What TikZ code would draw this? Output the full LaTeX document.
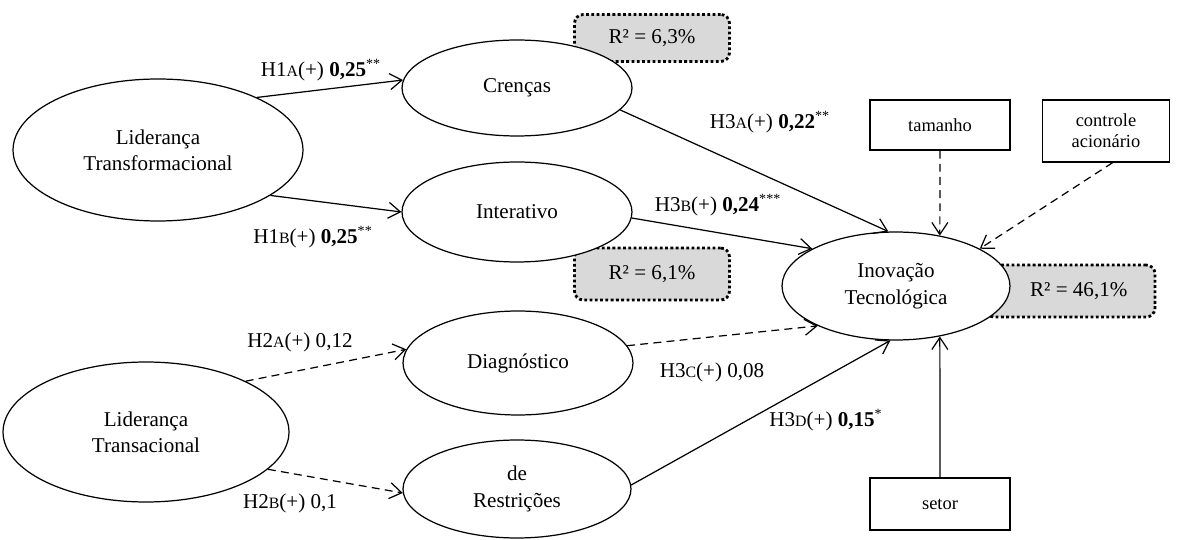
\documentclass[tikz,border=0pt]{standalone}
\usepackage{fontspec}
\setmainfont{Liberation Serif}
\colorlet{FilledBox}{black!15}
\usetikzlibrary{shapes.geometric, arrows.meta}
\newcommand{\capinha}[1]{{\fontsize{9}{10}\selectfont #1}}
\newcommand{\coef}[2]{\textbf{#1}\textsuperscript{#2}}
\tikzset{
    construto/.style={draw, ellipse, fill=white, line width=0.7pt, inner sep=0pt,
        align=center, font=\fontsize{12}{15}\selectfont},
    caixa rdois/.style={draw, rounded corners=5pt, fill=FilledBox, line width=1.6pt,
        dash pattern=on 1.6pt off 1.4pt, inner sep=0pt, font=\fontsize{12}{14}\selectfont},
    caixa controle/.style={draw, rectangle, line width=0.7pt, inner sep=0pt,
        align=center, font=\fontsize{10.5}{12}\selectfont},
    seta/.style={line width=0.7pt, -{Straight Barb[length=2.4mm,width=3.2mm]}},
    seta ns/.style={seta, dash pattern=on 4.5pt off 3pt},
    rotulo/.style={font=\fontsize{12}{14}\selectfont, inner sep=0pt}
}

\begin{document}
\begin{tikzpicture}[x=0.02cm, y=-0.02cm]

\useasboundingbox (0,0) rectangle (1177,540);

% Caixas de R2: desenhadas antes, para que as elipses fiquem por cima
\node[caixa rdois, minimum width=3.1cm, minimum height=0.94cm] (rdoisA) at (652,38) {R² = 6,3\%};
\node[caixa rdois, minimum width=3.1cm, minimum height=1.04cm] (rdoisB) at (652,274) {R² = 6,1\%};
\node[caixa rdois, minimum width=3.4cm, minimum height=1.04cm] (rdoisC) at (1070,291) {\hspace{10pt}R² = 46,1\%};

\node[construto, minimum width=5.8cm, minimum height=2.84cm] (transf) at (158,150) {Liderança\\Transformacional};
\node[construto, minimum width=5.72cm, minimum height=2.8cm] (transac) at (146,432) {Liderança\\Transacional};
\node[construto, minimum width=4.6cm, minimum height=1.92cm] (crencas) at (517,88) {Crenças};
\node[construto, minimum width=4.6cm, minimum height=2.0cm] (interativo) at (517,212) {Interativo};
\node[construto, minimum width=4.6cm, minimum height=2.08cm] (diag) at (518,363) {Diagnóstico};
\node[construto, minimum width=4.56cm, minimum height=1.96cm] (restr) at (517,489) {de\\Restrições};
\node[construto, minimum width=4.56cm, minimum height=2.16cm] (inov) at (896,286) {Inovação\\Tecnológica};

\node[caixa controle, minimum width=2.8cm, minimum height=1cm] (tamanho) at (940,125) {tamanho};
\node[caixa controle, minimum width=2.54cm, minimum height=1.24cm] (acionario) at (1106,131) {controle\\acionário};
\node[caixa controle, minimum width=2.8cm, minimum height=1.04cm] (setor) at (940,504) {setor};

% Caminhos estruturais
\draw[seta] (transf.28) -- (crencas.176);
\draw[seta] (transf.-22) -- (interativo.180);
\draw[seta ns] (transac.27) -- (diag.173);
\draw[seta ns] (transac.-17) -- (restr.182);
\draw[seta] (crencas.-12) -- (inov.98);
\draw[seta] (interativo.-3) -- (inov.156);
\draw[seta ns] (diag.9) -- (inov.207);
\draw[seta] (restr.2) -- (inov.264);
\draw[seta ns] (tamanho) -- (inov.49);
\draw[seta ns] (acionario.-78) -- (inov.24);
\draw[seta] (setor) -- (inov.-49);

\node[rotulo] (hUmA) at (321,70) {H1\capinha{A}(+) \coef{0,25}{**}};
\node[rotulo] (hUmB) at (313,237) {H1\capinha{B}(+) \coef{0,25}{**}};
\node[rotulo] (hDoisA) at (300,342) {H2\capinha{A}(+) 0,12};
\node[rotulo] (hDoisB) at (290,503) {H2\capinha{B}(+) 0,1};
\node[rotulo] (hTresA) at (770,122) {H3\capinha{A}(+) \coef{0,22}{**}};
\node[rotulo] (hTresB) at (718,205) {H3\capinha{B}(+) \coef{0,24}{***}};
\node[rotulo] (hTresC) at (712,372) {H3\capinha{C}(+) 0,08};
\node[rotulo] (hTresD) at (826,420) {H3\capinha{D}(+) \coef{0,15}{*}};

\end{tikzpicture}
\end{document}
